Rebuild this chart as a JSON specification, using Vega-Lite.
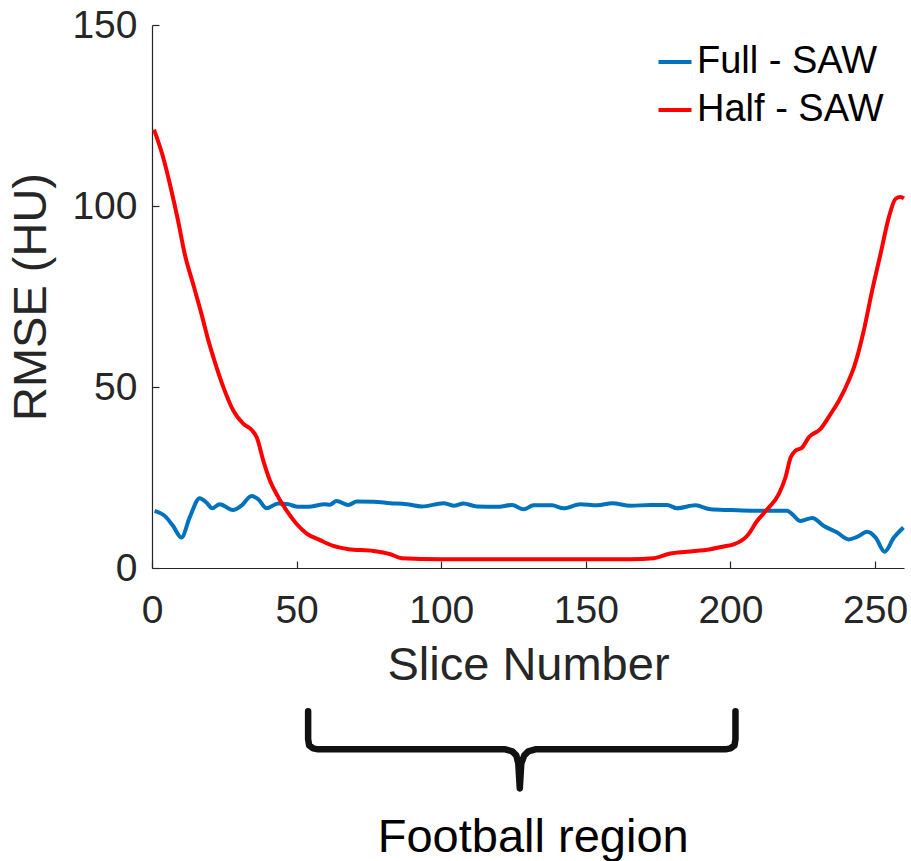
{
  "$schema": "https://vega.github.io/schema/vega-lite/v6.json",
  "autosize": {"type": "none"},
  "padding": {"left": 152, "top": 25, "right": 7, "bottom": 293},
  "width": 752,
  "height": 543,
  "background": "white",
  "config": {
    "view": {"stroke": null},
    "font": "Liberation Sans",
    "axis": {
      "grid": false,
      "domainColor": "#262626",
      "domainWidth": 1.2,
      "tickColor": "#262626",
      "tickWidth": 1.2,
      "labelColor": "#262626",
      "titleColor": "#262626",
      "labelFont": "Liberation Sans",
      "titleFont": "Liberation Sans",
      "labelFontSize": 39,
      "titleFontSize": 47,
      "titleFontWeight": "normal"
    }
  },
  "datasets": {
    "curves": [
      {"s": 0.9, "v": 15.8, "series": "Full - SAW"},
      {"s": 4.4, "v": 14.4, "series": "Full - SAW"},
      {"s": 7.3, "v": 11.6, "series": "Full - SAW"},
      {"s": 10.2, "v": 8.4, "series": "Full - SAW"},
      {"s": 13.0, "v": 13.9, "series": "Full - SAW"},
      {"s": 16.5, "v": 19.3, "series": "Full - SAW"},
      {"s": 18.8, "v": 18.1, "series": "Full - SAW"},
      {"s": 20.8, "v": 16.5, "series": "Full - SAW"},
      {"s": 23.4, "v": 17.6, "series": "Full - SAW"},
      {"s": 28.0, "v": 16.0, "series": "Full - SAW"},
      {"s": 30.9, "v": 17.2, "series": "Full - SAW"},
      {"s": 34.4, "v": 19.9, "series": "Full - SAW"},
      {"s": 36.7, "v": 19.0, "series": "Full - SAW"},
      {"s": 39.6, "v": 16.5, "series": "Full - SAW"},
      {"s": 43.6, "v": 17.8, "series": "Full - SAW"},
      {"s": 47.1, "v": 17.6, "series": "Full - SAW"},
      {"s": 50.5, "v": 16.9, "series": "Full - SAW"},
      {"s": 54.0, "v": 16.9, "series": "Full - SAW"},
      {"s": 59.8, "v": 17.6, "series": "Full - SAW"},
      {"s": 61.5, "v": 17.5, "series": "Full - SAW"},
      {"s": 63.8, "v": 18.5, "series": "Full - SAW"},
      {"s": 67.9, "v": 17.4, "series": "Full - SAW"},
      {"s": 70.8, "v": 18.4, "series": "Full - SAW"},
      {"s": 76.6, "v": 18.3, "series": "Full - SAW"},
      {"s": 82.4, "v": 17.9, "series": "Full - SAW"},
      {"s": 88.1, "v": 17.6, "series": "Full - SAW"},
      {"s": 93.3, "v": 17.0, "series": "Full - SAW"},
      {"s": 100.8, "v": 17.9, "series": "Full - SAW"},
      {"s": 104.3, "v": 17.2, "series": "Full - SAW"},
      {"s": 107.7, "v": 17.8, "series": "Full - SAW"},
      {"s": 112.3, "v": 17.0, "series": "Full - SAW"},
      {"s": 119.3, "v": 16.9, "series": "Full - SAW"},
      {"s": 124.5, "v": 17.4, "series": "Full - SAW"},
      {"s": 128.5, "v": 16.2, "series": "Full - SAW"},
      {"s": 131.9, "v": 17.3, "series": "Full - SAW"},
      {"s": 138.3, "v": 17.3, "series": "Full - SAW"},
      {"s": 142.3, "v": 16.5, "series": "Full - SAW"},
      {"s": 148.1, "v": 17.6, "series": "Full - SAW"},
      {"s": 153.9, "v": 17.3, "series": "Full - SAW"},
      {"s": 159.1, "v": 17.9, "series": "Full - SAW"},
      {"s": 165.4, "v": 17.2, "series": "Full - SAW"},
      {"s": 172.3, "v": 17.4, "series": "Full - SAW"},
      {"s": 178.1, "v": 17.4, "series": "Full - SAW"},
      {"s": 181.5, "v": 16.5, "series": "Full - SAW"},
      {"s": 187.9, "v": 17.3, "series": "Full - SAW"},
      {"s": 193.1, "v": 16.2, "series": "Full - SAW"},
      {"s": 200.0, "v": 16.0, "series": "Full - SAW"},
      {"s": 208.1, "v": 15.8, "series": "Full - SAW"},
      {"s": 219.6, "v": 15.8, "series": "Full - SAW"},
      {"s": 221.3, "v": 14.9, "series": "Full - SAW"},
      {"s": 224.2, "v": 13.0, "series": "Full - SAW"},
      {"s": 228.3, "v": 13.8, "series": "Full - SAW"},
      {"s": 232.3, "v": 11.6, "series": "Full - SAW"},
      {"s": 236.9, "v": 9.8, "series": "Full - SAW"},
      {"s": 240.9, "v": 7.9, "series": "Full - SAW"},
      {"s": 243.8, "v": 8.6, "series": "Full - SAW"},
      {"s": 247.3, "v": 10.0, "series": "Full - SAW"},
      {"s": 250.2, "v": 8.4, "series": "Full - SAW"},
      {"s": 253.3, "v": 4.5, "series": "Full - SAW"},
      {"s": 256.5, "v": 8.4, "series": "Full - SAW"},
      {"s": 259.8, "v": 11.2, "series": "Full - SAW"},
      {"s": 0.7, "v": 121.1, "series": "Half - SAW"},
      {"s": 3.8, "v": 113.6, "series": "Half - SAW"},
      {"s": 6.7, "v": 104.3, "series": "Half - SAW"},
      {"s": 9.0, "v": 96.0, "series": "Half - SAW"},
      {"s": 11.3, "v": 86.8, "series": "Half - SAW"},
      {"s": 14.2, "v": 78.5, "series": "Half - SAW"},
      {"s": 17.1, "v": 70.2, "series": "Half - SAW"},
      {"s": 19.5, "v": 62.8, "series": "Half - SAW"},
      {"s": 21.5, "v": 57.5, "series": "Half - SAW"},
      {"s": 24.7, "v": 49.9, "series": "Half - SAW"},
      {"s": 28.1, "v": 43.5, "series": "Half - SAW"},
      {"s": 31.6, "v": 39.8, "series": "Half - SAW"},
      {"s": 34.5, "v": 38.1, "series": "Half - SAW"},
      {"s": 36.2, "v": 36.1, "series": "Half - SAW"},
      {"s": 38.5, "v": 29.6, "series": "Half - SAW"},
      {"s": 40.8, "v": 24.1, "series": "Half - SAW"},
      {"s": 43.7, "v": 19.5, "series": "Half - SAW"},
      {"s": 46.6, "v": 15.8, "series": "Half - SAW"},
      {"s": 50.1, "v": 12.1, "series": "Half - SAW"},
      {"s": 53.5, "v": 9.5, "series": "Half - SAW"},
      {"s": 58.1, "v": 7.7, "series": "Half - SAW"},
      {"s": 62.7, "v": 6.1, "series": "Half - SAW"},
      {"s": 67.9, "v": 5.2, "series": "Half - SAW"},
      {"s": 76.6, "v": 4.7, "series": "Half - SAW"},
      {"s": 82.4, "v": 3.8, "series": "Half - SAW"},
      {"s": 86.4, "v": 2.7, "series": "Half - SAW"},
      {"s": 99.7, "v": 2.4, "series": "Half - SAW"},
      {"s": 122.7, "v": 2.4, "series": "Half - SAW"},
      {"s": 134.3, "v": 2.4, "series": "Half - SAW"},
      {"s": 165.4, "v": 2.4, "series": "Half - SAW"},
      {"s": 173.5, "v": 2.7, "series": "Half - SAW"},
      {"s": 179.2, "v": 4.0, "series": "Half - SAW"},
      {"s": 185.0, "v": 4.5, "series": "Half - SAW"},
      {"s": 193.1, "v": 5.2, "series": "Half - SAW"},
      {"s": 198.0, "v": 6.0, "series": "Half - SAW"},
      {"s": 201.1, "v": 6.5, "series": "Half - SAW"},
      {"s": 205.8, "v": 8.9, "series": "Half - SAW"},
      {"s": 209.2, "v": 13.0, "series": "Half - SAW"},
      {"s": 212.7, "v": 16.2, "series": "Half - SAW"},
      {"s": 216.7, "v": 20.4, "series": "Half - SAW"},
      {"s": 219.0, "v": 25.0, "series": "Half - SAW"},
      {"s": 220.8, "v": 30.5, "series": "Half - SAW"},
      {"s": 222.5, "v": 32.4, "series": "Half - SAW"},
      {"s": 224.8, "v": 33.3, "series": "Half - SAW"},
      {"s": 227.1, "v": 36.1, "series": "Half - SAW"},
      {"s": 231.1, "v": 38.4, "series": "Half - SAW"},
      {"s": 234.6, "v": 42.5, "series": "Half - SAW"},
      {"s": 237.5, "v": 46.2, "series": "Half - SAW"},
      {"s": 240.9, "v": 51.8, "series": "Half - SAW"},
      {"s": 242.7, "v": 55.4, "series": "Half - SAW"},
      {"s": 246.1, "v": 65.6, "series": "Half - SAW"},
      {"s": 249.0, "v": 76.7, "series": "Half - SAW"},
      {"s": 251.9, "v": 86.8, "series": "Half - SAW"},
      {"s": 254.8, "v": 97.0, "series": "Half - SAW"},
      {"s": 257.1, "v": 102.0, "series": "Half - SAW"},
      {"s": 258.8, "v": 102.5, "series": "Half - SAW"},
      {"s": 260.0, "v": 102.1, "series": "Half - SAW"}
    ],
    "bracket": [
      {"i": 1, "s": 53.98, "v": -39.58},
      {"i": 2, "s": 53.98, "v": -47.33},
      {"i": 3, "s": 54.33, "v": -48.99},
      {"i": 4, "s": 55.71, "v": -49.82},
      {"i": 5, "s": 57.44, "v": -50.1},
      {"i": 6, "s": 122.15, "v": -50.1},
      {"i": 7, "s": 124.57, "v": -50.65},
      {"i": 8, "s": 125.95, "v": -51.76},
      {"i": 9, "s": 126.64, "v": -53.97},
      {"i": 10, "s": 127.16, "v": -60.89},
      {"i": 11, "s": 127.68, "v": -53.97},
      {"i": 12, "s": 128.72, "v": -51.76},
      {"i": 13, "s": 130.1, "v": -50.65},
      {"i": 14, "s": 132.53, "v": -50.1},
      {"i": 15, "s": 198.27, "v": -50.1},
      {"i": 16, "s": 200.0, "v": -49.82},
      {"i": 17, "s": 201.38, "v": -48.99},
      {"i": 18, "s": 201.73, "v": -47.33},
      {"i": 19, "s": 201.73, "v": -39.58}
    ],
    "note": [
      {"s": 131.8, "v": -74.7, "label": "Football region"}
    ]
  },
  "layer": [
    {
      "data": {"name": "curves"},
      "mark": {"type": "line", "strokeWidth": 4, "interpolate": "monotone", "clip": false},
      "encoding": {
        "x": {
          "field": "s", "type": "quantitative",
          "scale": {"domain": [0, 260], "nice": false, "zero": false},
          "axis": {"title": "Slice Number", "values": [0, 50, 100, 150, 200, 250], "tickSize": -7, "labelPadding": 30, "titlePadding": 12, "labelFlush": false, "labelOverlap": false}
        },
        "y": {
          "field": "v", "type": "quantitative",
          "scale": {"domain": [0, 150], "nice": false},
          "axis": {"title": "RMSE (HU)", "values": [0, 50, 100, 150], "tickSize": -7, "labelPadding": 22, "titlePadding": 16, "labelFlush": false, "labelOverlap": false}
        },
        "color": {
          "field": "series", "type": "nominal",
          "scale": {"domain": ["Full - SAW", "Half - SAW"], "range": ["#0072BD", "#FF0000"]},
          "legend": {
            "title": null,
            "orient": "none",
            "legendX": 504,
            "legendY": 18,
            "padding": 0,
            "symbolType": "stroke",
            "symbolSize": 1089,
            "symbolStrokeWidth": 4,
            "labelFontSize": 38,
            "labelFont": "Liberation Sans",
            "labelColor": "#000000",
            "labelOffset": 3,
            "labelLimit": 0,
            "rowPadding": 10
          }
        }
      }
    },
    {
      "data": {"name": "bracket"},
      "mark": {"type": "line", "strokeWidth": 6.5, "color": "#111111", "strokeCap": "round", "strokeJoin": "round", "clip": false},
      "encoding": {
        "x": {"field": "s", "type": "quantitative", "scale": {"domain": [0, 260], "nice": false, "zero": false}},
        "y": {"field": "v", "type": "quantitative", "scale": {"domain": [0, 150], "nice": false}},
        "order": {"field": "i", "type": "quantitative"}
      }
    },
    {
      "data": {"name": "note"},
      "mark": {"type": "text", "fontSize": 47, "font": "Liberation Sans", "color": "#000000", "align": "center", "baseline": "middle", "clip": false},
      "encoding": {
        "x": {"field": "s", "type": "quantitative", "scale": {"domain": [0, 260], "nice": false, "zero": false}},
        "y": {"field": "v", "type": "quantitative", "scale": {"domain": [0, 150], "nice": false}},
        "text": {"field": "label"}
      }
    }
  ]
}
